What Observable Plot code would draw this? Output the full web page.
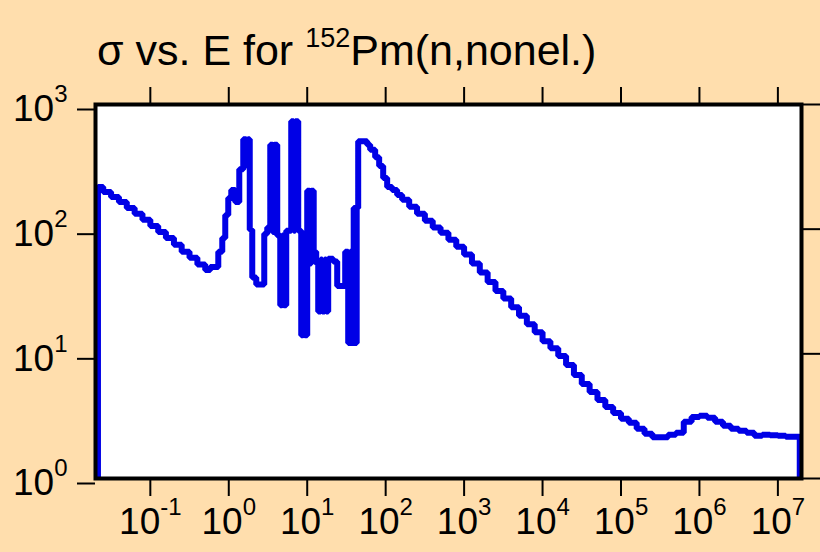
<!DOCTYPE html>
<html>
<head>
<meta charset="utf-8">
<script src="https://cdn.jsdelivr.net/npm/d3@7"></script>
<script src="https://cdn.jsdelivr.net/npm/@observablehq/plot@0.6"></script>
<style>
  html, body { margin: 0; padding: 0; background: #FFDEAD; }
  #wrap { position: relative; width: 820px; height: 552px; overflow: hidden; }
  #title { position: absolute; left: 97px; top: 29px; font-family: 'Liberation Sans', Arial, sans-serif;
           font-size: 43px; line-height: 43px; color: #000; white-space: nowrap; }
  #title .sup { font-size: 27px; position: relative; top: -18px; }
</style>
</head>
<body>
<div id="wrap">
  <div id="title">σ vs. E for <span class="sup">152</span>Pm(n,nonel.)</div>
  <div id="chart"></div>
</div>
<script>
// Energy (eV), group-wise cross section (b)
const energy = [
  0.0215, 0.0215, 0.0251, 0.0316, 0.0398, 0.0501, 0.0631, 0.0794, 0.1, 0.126, 0.158, 0.2, 0.251, 0.316, 0.398, 0.501,
  0.581, 0.735, 0.826, 0.902, 0.985, 1.076, 1.21, 1.361, 1.53, 1.671, 1.746, 1.851, 1.992, 2.24, 2.833, 3.094,
  3.379, 3.635, 3.798, 4.148, 4.531, 4.803, 5.019, 5.402, 6.255, 6.73, 7.033, 7.681, 8.388, 8.894, 9.293,
  10.0, 10.76, 11.24, 12.10, 13.02, 13.81, 14.86, 15.53, 16.71, 17.46, 18.51, 21.44, 24.11, 30.49, 33.30,
  35.31, 37.43, 39.12, 41.48, 42.72, 44.65, 58.12, 63.47, 73.48, 82.63, 92.94, 104.5, 121.0, 140.1, 162.3,
  199.5, 251.2, 316.2, 398.1, 501.2, 631.0, 794.3, 1000, 1259, 1585, 1995, 2512, 3162, 3981, 5012, 6310, 7943,
  1e4, 12590, 15850, 19950, 25120, 31620, 39810, 50120, 63100, 79430,
  1e5, 125900, 158500, 199500, 251200, 316200, 398100, 501200, 631000, 794300,
  1e6, 1259000, 1585000, 1995000, 2512000, 3162000, 3981000, 5012000, 6310000, 7943000,
  1e7, 12590000, 15850000, 1.9e7, 1.9e7
];
const sigma = [
  1, 218, 199, 181, 165, 148, 133, 119, 106, 95, 85, 75, 66, 59, 52, 47,
  49.7, 66, 85, 130, 178, 206, 165, 303, 526, 326, 526, 99, 41, 36, 92, 103,
  476, 95, 476, 89, 24.5, 89, 24.5, 97, 733, 97, 733, 97, 14.1, 50, 14.1,
  203, 53, 203, 66, 53, 21.9, 57, 21.9, 57, 21.9, 58, 55, 35, 66, 12.2,
  66, 12.2, 148, 12.2, 148, 508, 476, 434, 378, 321, 257, 218, 206, 188, 172,
  151, 133, 117, 103, 93.6, 82.3, 72.4, 62.5, 53, 44.9, 37.7, 31.9, 27.8, 23.6, 20.2, 17.3, 14.9,
  12.6, 11.1, 9.59, 8.12, 6.76, 5.73, 4.94, 4.27, 3.75, 3.36,
  3.01, 2.80, 2.51, 2.29, 2.14, 2.14, 2.24, 2.33, 2.85, 3.12,
  3.18, 3.07, 2.85, 2.65, 2.51, 2.42, 2.33, 2.20, 2.24, 2.22,
  2.20, 2.16, 2.16, 2.16, 1
];
const xTicks = [1e-1, 1e0, 1e1, 1e2, 1e3, 1e4, 1e5, 1e6, 1e7];
const yTicks = [1e0, 1e1, 1e2, 1e3];
const xDomain = [0.02, 2e7];
const yDomain = [1, 1000];

const data = energy.map((e, i) => ({E: e, s: sigma[i]}));
const fmt = d => "10^" + Math.round(Math.log10(d));

const svg = Plot.plot({
  width: 820,
  height: 552,
  marginLeft: 95,
  marginRight: 19,
  marginTop: 104,
  marginBottom: 74,
  style: {background: "transparent", fontSize: "37px", fontFamily: "'Liberation Sans', Arial, sans-serif", color: "black"},
  x: {type: "log", domain: xDomain, label: null},
  y: {type: "log", domain: yDomain, label: null},
  marks: [
    Plot.frame({fill: "white"}),
    Plot.line(data, {x: "E", y: "s", curve: "step-after", stroke: "#0000e6", strokeWidth: 6,
                     strokeLinejoin: "miter", strokeLinecap: "butt"}),
    Plot.axisX({anchor: "bottom", ticks: xTicks, tickFormat: fmt, tickSize: 18, tickPadding: 11, strokeWidth: 2, label: null}),
    Plot.axisX({anchor: "top", ticks: xTicks, tickFormat: () => "", tickSize: 18, strokeWidth: 2, label: null}),
    Plot.axisY({anchor: "left", ticks: yTicks, tickFormat: fmt, tickSize: 18, tickPadding: 10, strokeWidth: 2, dy: 5, label: null}),
    Plot.axisY({anchor: "right", ticks: yTicks, tickFormat: () => "", tickSize: 18, strokeWidth: 2, label: null}),
    Plot.frame({stroke: "black", strokeWidth: 4})
  ]
});

// turn "10^n" labels into base + superscript
svg.querySelectorAll("text").forEach(t => {
  const s = t.textContent;
  if (!s || s.indexOf("^") < 0) return;
  const [base, exp] = s.split("^");
  t.textContent = base;
  const ts = document.createElementNS("http://www.w3.org/2000/svg", "tspan");
  ts.setAttribute("font-size", "24px");
  ts.setAttribute("dy", "-19");
  ts.textContent = exp;
  t.appendChild(ts);
});

document.getElementById("chart").appendChild(svg);
</script>
</body>
</html>
